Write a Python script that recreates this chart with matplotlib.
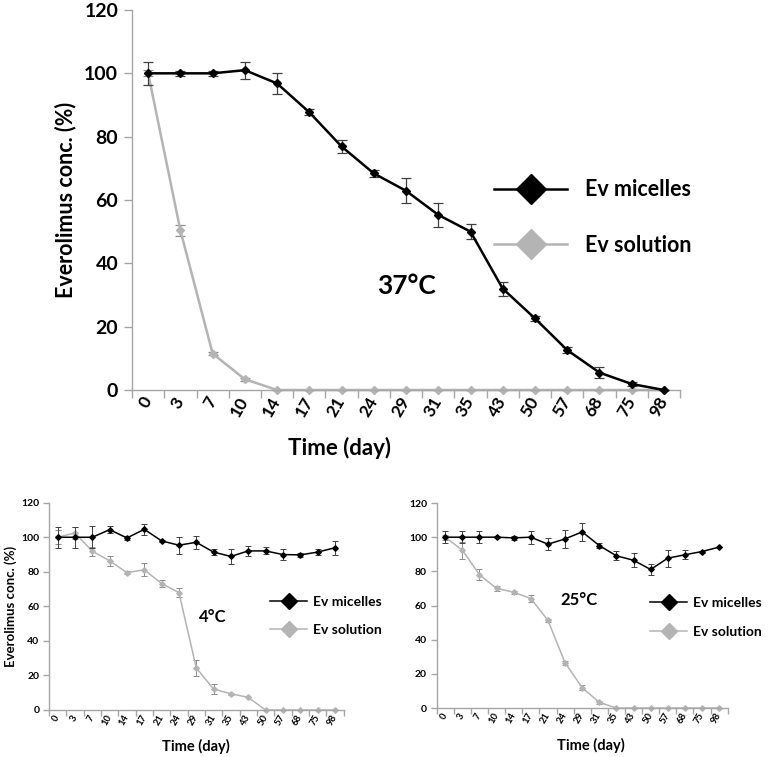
import numpy as np
import matplotlib
matplotlib.use("Agg")
import matplotlib.pyplot as plt
from matplotlib.lines import Line2D

plt.rcParams['font.family'] = ['Lato', 'DejaVu Sans']
plt.rcParams['font.weight'] = 'bold'

days = ['0', '3', '7', '10', '14', '17', '21', '24', '29', '31', '35', '43', '50', '57', '68', '75', '98']

# 37 C
mic_37 = [100, 100, 100, 101, 96.8, 87.7, 76.9, 68.4, 62.9, 55.3, 50.0, 32.0, 22.6, 12.6, 5.5, 1.9, 0]
mic_37_err = [3.6, 0.8, 0.8, 2.7, 3.3, 1.0, 2.2, 1.2, 3.9, 3.8, 2.3, 2.2, 0.8, 1.0, 1.7, 0.6, 0]
sol_37 = [100, 50.4, 11.5, 3.4, 0, 0, 0, 0, 0, 0, 0, 0, 0, 0, 0, 0, 0]
sol_37_err = [1.0, 1.8, 0.5, 0.5, 0, 0, 0, 0, 0, 0, 0, 0, 0, 0, 0, 0, 0]

# 4 C
mic_4 = [100, 100, 100, 104.4, 99.6, 104.6, 97.9, 95.4, 97.1, 91.4, 88.9, 92.1, 92.1, 90.0, 89.8, 91.4, 93.9]
mic_4_err = [6.0, 6.2, 6.3, 2.0, 1.0, 3.0, 0.5, 5.0, 3.9, 1.7, 4.4, 2.7, 2.0, 3.0, 1.3, 1.8, 4.0]
sol_4 = [100, 102.5, 91.9, 86.4, 79.5, 81.2, 73.2, 68.0, 24.4, 12.1, 9.4, 7.3, 0, 0, 0, 0, 0]
sol_4_err = [4.0, 3.5, 2.5, 2.8, 0.7, 3.8, 1.8, 2.6, 4.6, 3.0, 0.6, 0, 0, 0, 0, 0, 0]

# 25 C
mic_25 = [100, 100, 100, 100, 99.6, 100, 95.9, 99.0, 103.1, 95.1, 89.1, 86.5, 81.1, 87.7, 89.7, 91.6, 94.2]
mic_25_err = [3.5, 3.5, 3.5, 0.5, 1.3, 3.7, 3.5, 5.5, 5.3, 1.5, 2.7, 4.0, 3.0, 5.0, 2.7, 0.6, 0]
sol_25 = [100, 92.4, 78.0, 70.0, 67.8, 64.1, 51.3, 26.5, 11.9, 3.3, 0, 0, 0, 0, 0, 0, 0]
sol_25_err = [1.5, 5.0, 3.2, 1.3, 0.8, 1.8, 0.8, 1.2, 1.5, 0.7, 0, 0, 0, 0, 0, 0, 0]

BLACK = '#000000'
GREY = '#b4b4b4'
AXC = '#a6a6a6'


def panel(ax, mic, mic_err, sol, sol_err, big):
    x = np.arange(len(days))
    lw = 1.8 if big else 1.1
    ms = 3.6 if big else 2.8
    cap = 3.5 if big else 2.2
    elw = 0.9 if big else 0.7
    ax.errorbar(x, sol, yerr=sol_err, color=GREY, lw=lw, marker='D', ms=ms,
                ecolor='#8c8c8c', elinewidth=elw, capsize=cap, capthick=elw, clip_on=False, zorder=2)
    ax.errorbar(x, mic, yerr=mic_err, color=BLACK, lw=lw, marker='D', ms=ms,
                ecolor='#404040', elinewidth=elw, capsize=cap, capthick=elw, clip_on=False, zorder=3)
    ax.set_xlim(-0.5, len(days) - 0.5)
    ax.set_ylim(0, 120)
    ax.set_yticks(range(0, 121, 20))
    ax.set_xticks(x)
    ax.set_xticks(np.arange(-0.5, len(days)), minor=True)
    for s in ['top', 'right']:
        ax.spines[s].set_visible(False)
    for s in ['left', 'bottom']:
        ax.spines[s].set_color(AXC)
        ax.spines[s].set_linewidth(1.0)
    tl = 6 if big else 4
    ax.tick_params(axis='x', which='major', length=0, pad=6 if big else 4)
    ax.tick_params(axis='x', which='minor', length=tl, color=AXC, width=1.0)
    ax.tick_params(axis='y', length=tl, color=AXC, width=1.0, pad=4 if big else 3)
    fs_x = 12.5 if big else 6.8
    fs_y = 14 if big else 7.5
    ax.set_xticklabels(days, rotation=60, ha='right', va='center', rotation_mode='anchor',
                       fontsize=fs_x, fontweight='bold')
    for lab in ax.get_yticklabels():
        lab.set_fontsize(fs_y)
        lab.set_fontweight('bold')


def legend(fig, x, y, fs, big):
    lw = 1.8 if big else 1.1
    ms = 15 if big else 8
    h = [Line2D([], [], color=BLACK, lw=lw, marker='D', ms=ms),
         Line2D([], [], color=GREY, lw=lw, marker='D', ms=ms)]
    fig.legend(h, ['Ev micelles', 'Ev solution'], loc='center left', bbox_to_anchor=(x, y),
               frameon=False, fontsize=fs, handlelength=3.4 if big else 2.7,
               handletextpad=0.85 if big else 0.4, labelspacing=1.6 if big else 1.2,
               borderpad=0, borderaxespad=0, prop={'weight': 'bold', 'size': fs})


fig = plt.figure(figsize=(7.69, 7.57), dpi=100)

ax1 = fig.add_axes([0.1717, 0.4848, 0.7126, 0.502])
panel(ax1, mic_37, mic_37_err, sol_37, sol_37_err, True)
ax1.set_ylabel('Everolimus conc. (%)', fontsize=15.5, fontweight='bold')
ax1.yaxis.set_label_coords(-0.1025, 0.5)
ax1.set_xlabel('Time (day)', fontsize=16, fontweight='bold')
ax1.xaxis.set_label_coords(0.378, -0.124)
ax1.text(0.5, 0.275, '37°C', transform=ax1.transAxes, fontsize=19, fontweight='bold',
         ha='center', va='center')
legend(fig, 0.6424, 0.7127, 15.5, True)

ax2 = fig.add_axes([0.0637, 0.0621, 0.383, 0.2738])
panel(ax2, mic_4, mic_4_err, sol_4, sol_4_err, False)
ax2.set_ylabel('Everolimus conc. (%)', fontsize=9.5, fontweight='bold')
ax2.yaxis.set_label_coords(-0.108, 0.5)
ax2.set_xlabel('Time (day)', fontsize=10.5, fontweight='bold')
ax2.xaxis.set_label_coords(0.5, -0.14)
ax2.text(0.555, 0.45, '4°C', transform=ax2.transAxes, fontsize=12, fontweight='bold',
         ha='center', va='center')
legend(fig, 0.351, 0.1863, 10, False)

ax3 = fig.add_axes([0.5679, 0.0647, 0.3783, 0.2708])
panel(ax3, mic_25, mic_25_err, sol_25, sol_25_err, False)
ax3.set_xlabel('Time (day)', fontsize=10.5, fontweight='bold')
ax3.xaxis.set_label_coords(0.53, -0.145)
ax3.text(0.49, 0.525, '25°C', transform=ax3.transAxes, fontsize=12, fontweight='bold',
         ha='center', va='center')
legend(fig, 0.845, 0.1843, 10, False)

fig.savefig('out.png', dpi=100)
